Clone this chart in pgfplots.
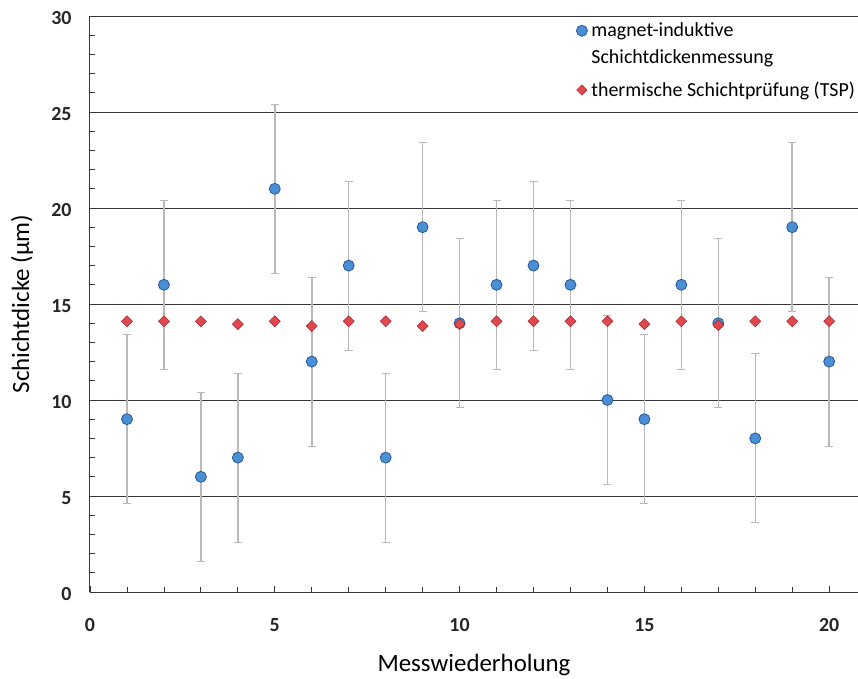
\documentclass[border=0pt]{standalone}
\usepackage{fontspec}
\setmainfont{Carlito}
\usepackage{pgfplots}
\usepackage{pgfplotstable}
\pgfplotsset{compat=1.18}

\definecolor{gridc}{RGB}{55,55,55}
\definecolor{errc}{RGB}{185,185,185}
\definecolor{bluefill}{RGB}{74,142,212}
\definecolor{bluedraw}{RGB}{38,88,155}
\definecolor{redfill}{RGB}{222,72,78}
\definecolor{reddraw}{RGB}{165,40,45}

\pgfplotstableread{
x y e
1 9 4.4
2 16 4.4
3 6 4.4
4 7 4.4
5 21 4.4
6 12 4.4
7 17 4.4
8 7 4.4
9 19 4.4
10 14 4.4
11 16 4.4
12 17 4.4
13 16 4.4
14 10 4.4
15 9 4.4
16 16 4.4
17 14 4.4
18 8 4.4
19 19 4.4
20 12 4.4
}\blue

\pgfplotstableread{
x y
1 14.1
2 14.1
3 14.1
4 13.95
5 14.1
6 13.85
7 14.1
8 14.1
9 13.85
10 13.95
11 14.1
12 14.1
13 14.1
14 14.1
15 13.95
16 14.1
17 13.9
18 14.1
19 14.1
20 14.1
}\red

\begin{document}
\begin{tikzpicture}
\useasboundingbox (-90bp,-87bp) rectangle (768bp,592bp);
\begin{axis}[
  at={(0,0)}, anchor=south west,
  scale only axis, width=768bp, height=576bp,
  xmin=0, xmax=20.78, ymin=0, ymax=30,
  axis x line*=bottom, axis y line*=left,
  axis line style={gridc, line width=1bp},
  xtick={0,5,...,20}, ytick={0,5,...,30},
  minor x tick num=4, minor y tick num=4,
  tick align=inside,
  major tick length=6bp, minor tick length=5bp,
  tick style={gridc, line width=0.8bp},
  ymajorgrids, major grid style={gridc, line width=0.9bp},
  /pgf/number format/assume math mode=true,
  ticklabel style={font=\fontsize{20}{24}\selectfont\bfseries, text=black!85},
  xticklabel style={yshift=-23bp},
  yticklabel style={xshift=-15bp, yshift=-2bp},
  xlabel={Messwiederholung},
  ylabel={Schichtdicke (µm)},
  label style={font=\fontsize{25}{30}\selectfont},
  xlabel style={at={(axis description cs:0.5,0)}, anchor=base, yshift=-79bp},
  ylabel style={at={(axis description cs:-0.0794,0.5)}, anchor=base, rotate=0},
  legend style={draw=none, fill=white, at={(0.6305,0.995)}, anchor=north west,
    font=\fontsize{20}{24}\selectfont, row sep=7bp, column sep=2bp,
    inner sep=2bp, nodes={inner sep=2bp}},
  legend cell align=left,
  legend image code/.code={\draw[#1] plot coordinates {(0bp,0bp)};},
  clip=false,
]
\addplot[only marks, mark=*, mark size=5.5bp,
  mark options={fill=bluefill, draw=bluedraw, line width=0.8bp},
  error bars/.cd, y dir=both, y explicit,
  error bar style={errc, line width=1.5bp},
  error mark options={rotate=90, mark size=4bp, errc, line width=1bp}]
  table[x=x, y=y, y error=e]{\blue};
\addlegendentry{magnet-induktive}
\addlegendimage{empty legend}
\addlegendentry{Schichtdickenmessung}
\addplot[forget plot, only marks, mark=square*, mark size=3.9bp,
  mark options={rotate=45, fill=redfill, draw=reddraw, line width=0.5bp}]
  table[x=x, y=y]{\red};
\addlegendimage{only marks, mark=square*, mark size=3.6bp, yshift=-3bp,
  mark options={rotate=45, fill=redfill, draw=reddraw, line width=0.5bp}}
\addlegendentry{\rule{0pt}{21bp}thermische Schichtprüfung (TSP)}
\end{axis}
\end{tikzpicture}
\end{document}
